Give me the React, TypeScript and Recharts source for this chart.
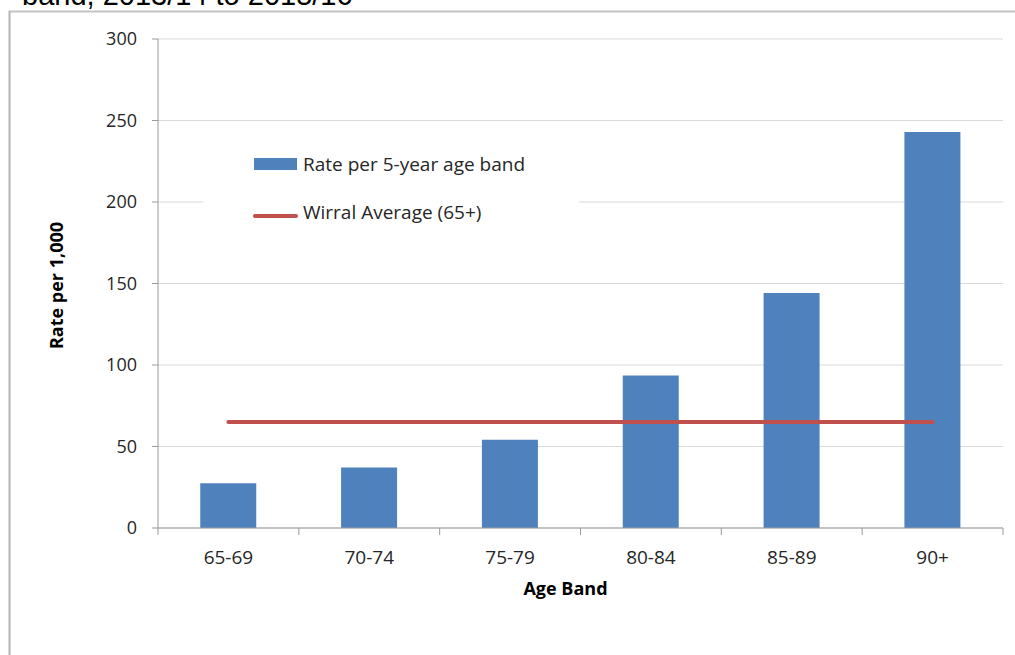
import {
  Bar,
  CartesianGrid,
  ComposedChart,
  Legend,
  Line,
  XAxis,
  YAxis,
} from 'recharts';

// Admissions rate per 1,000 by 5-year age band, with the borough-wide 65+ average.
const ageBands = ['65-69', '70-74', '75-79', '80-84', '85-89', '90+'];
const ratePerBand = [27.5, 37.1, 54.1, 93.6, 144.2, 242.9];
const wirralAverage = [65.1, 65.1, 65.1, 65.1, 65.1, 65.1];
const yTicks = [0, 50, 100, 150, 200, 250, 300];

const data = ageBands.map((band, i) => ({
  band,
  rate: ratePerBand[i],
  average: wirralAverage[i],
}));

const FONT = '"Open Sans", sans-serif';
const AXIS = '#9a9a9a';
const BLUE = '#4f81bd';
const RED = '#c0504d';

// Category ticks sit on the band boundaries, label in the middle.
function BandTick(props: any) {
  const { x, y, payload, index, visibleTicksCount } = props;
  const half = payload.offset ?? 0;
  const top = y - 23;
  return (
    <g>
      <line x1={x - half} x2={x - half} y1={top} y2={top + 7} stroke={AXIS} />
      {index === visibleTicksCount - 1 && (
        <line x1={x + half} x2={x + half} y1={top} y2={top + 7} stroke={AXIS} />
      )}
      <text x={x} y={y} dy="0.71em" textAnchor="middle" fontSize={19} fill="#262626" fontFamily={FONT}>
        {payload.value}
      </text>
    </g>
  );
}

function LegendBox(props: any) {
  const items = props.payload ?? [];
  return (
    <svg width={376} height={110} style={{ display: 'block' }}>
      <rect x={0} y={0} width={376} height={110} fill="#fff" />
      {items.map((item: any, i: number) => {
        const cy = 34 + i * 48;
        return (
          <g key={item.value}>
            {item.type === 'line' ? (
              <line x1={52} x2={93} y1={cy + 4} y2={cy + 4} stroke={item.color} strokeWidth={4} strokeLinecap="round" />
            ) : (
              <rect x={51} y={cy - 6} width={43} height={12} fill={item.color} />
            )}
            <text x={100} y={cy} dy="0.36em" fontSize={19} fill="#262626" fontFamily={FONT}>
              {item.value}
            </text>
          </g>
        );
      })}
    </svg>
  );
}

export default function App() {
  return (
    <div style={{ position: 'absolute', left: 0, top: 0, width: 1015, height: 655, background: '#fff' }}>
      <svg width={1015} height={655} style={{ position: 'absolute', left: 0, top: 0 }}>
        <text x={22} y={5} fontSize={29} fill="#000" fontFamily='"Liberation Sans", Arial, sans-serif'>
          band, 2013/14 to 2015/16
        </text>
        <line x1={9} x2={1015} y1={11.5} y2={11.5} stroke="#c4c4c4" strokeWidth={2} />
        <line x1={9.5} x2={9.5} y1={11} y2={655} stroke="#b4b4b4" strokeWidth={2} />
      </svg>
      <div style={{ position: 'absolute', left: 0, top: 0 }}>
        <ComposedChart
          width={1015}
          height={655}
          data={data}
          margin={{ top: 39, right: 12, left: 0, bottom: 0 }}
          barCategoryGap="30%"
        >
          <CartesianGrid vertical={false} stroke="#d9d9d9" />
          <XAxis
            dataKey="band"
            height={127}
            axisLine={{ stroke: AXIS }}
            tickLine={false}
            tickSize={7}
            tickMargin={16}
            tick={<BandTick />}
            interval={0}
            label={(p: any) => {
              const vb = p.viewBox;
              return (
                <text
                  x={vb.x + vb.width / 2 - 15}
                  y={vb.y + 67}
                  textAnchor="middle"
                  fontSize={18}
                  fontWeight={700}
                  fill="#000"
                  fontFamily={FONT}
                >
                  Age Band
                </text>
              );
            }}
          />
          <YAxis
            width={158}
            domain={[0, 300]}
            ticks={yTicks}
            axisLine={{ stroke: AXIS }}
            tickLine={{ stroke: AXIS }}
            tickSize={6}
            tickMargin={15}
            tick={{ fontSize: 18, fill: '#262626', fontFamily: FONT }}
            label={(p: any) => {
              const vb = p.viewBox;
              const cx = vb.x + 56;
              const cy = vb.y + vb.height / 2 + 2;
              return (
                <text
                  x={cx}
                  y={cy}
                  transform={`rotate(-90, ${cx}, ${cy})`}
                  textAnchor="middle"
                  dominantBaseline="central"
                  fontSize={18}
                  fontWeight={700}
                  fill="#000"
                  fontFamily={FONT}
                >
                  Rate per 1,000
                </text>
              );
            }}
          />
          {/* middle/center alignment keeps the legend from reserving chart space */}
          <Legend
            layout="horizontal"
            verticalAlign="middle"
            align="center"
            content={<LegendBox />}
            wrapperStyle={{ left: 203, top: 130, width: 376, height: 110 }}
          />
          <Bar dataKey="rate" name="Rate per 5-year age band" fill={BLUE} isAnimationActive={false} />
          <Line
            dataKey="average"
            name="Wirral Average (65+)"
            stroke={RED}
            strokeWidth={4}
            strokeLinecap="round"
            dot={false}
            activeDot={false}
            isAnimationActive={false}
            legendType="line"
          />
        </ComposedChart>
      </div>
    </div>
  );
}
